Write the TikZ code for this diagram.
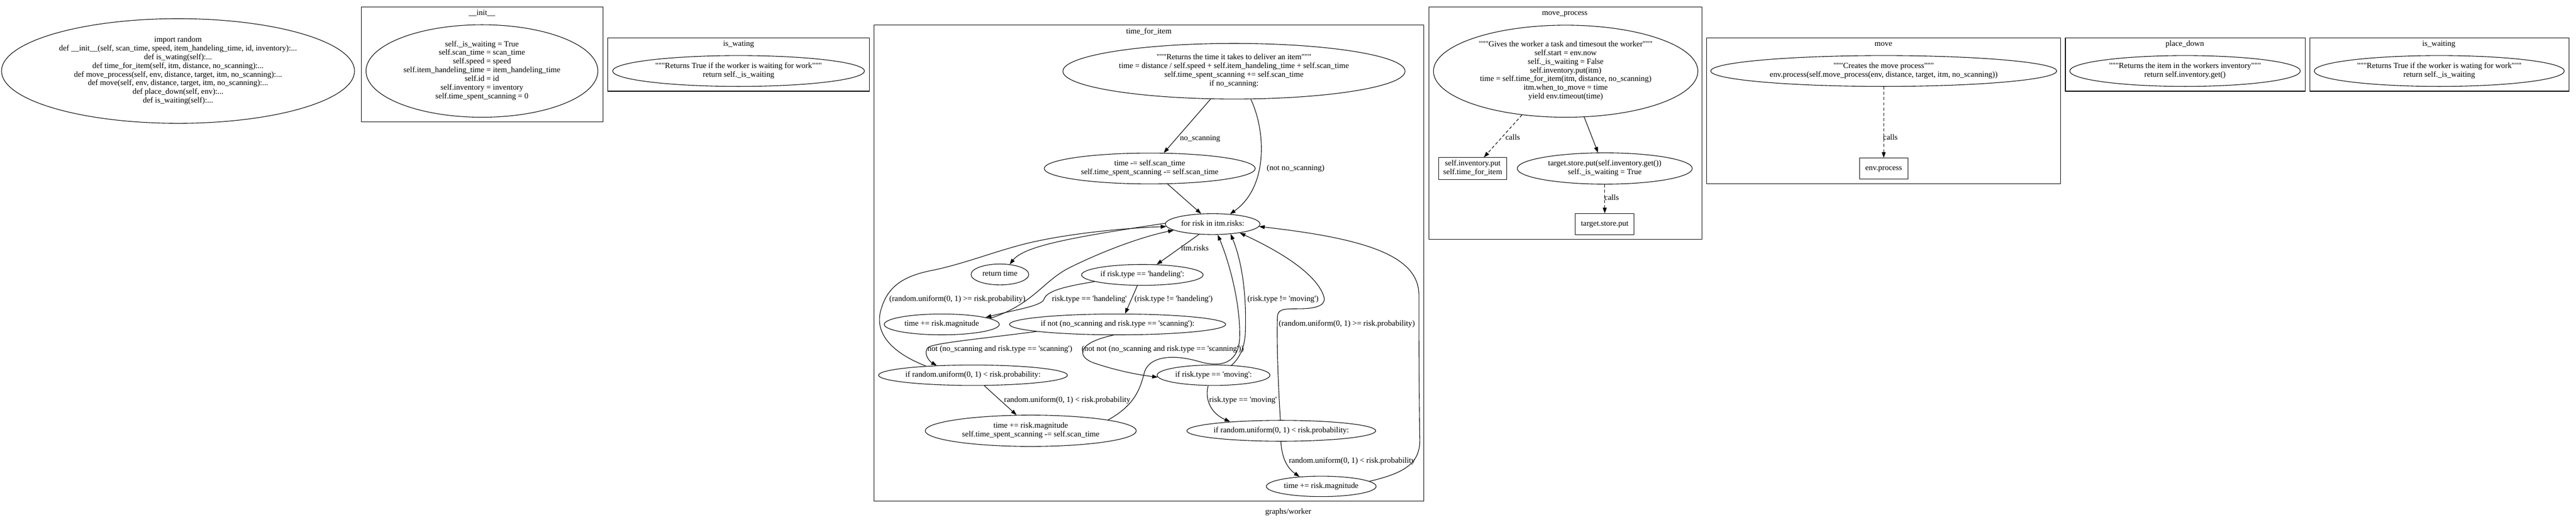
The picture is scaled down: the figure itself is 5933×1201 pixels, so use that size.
\documentclass[tikz,border=0pt]{standalone}
\usepackage{fontspec}
\setmainfont{Liberation Serif}[Ligatures=TeXOff]
\usetikzlibrary{shapes.geometric,arrows.meta}
\newcommand\fs{\fontsize{18.3}{20}\selectfont}
\begin{document}
\begin{tikzpicture}[x=1pt,y=-1pt,
  txt/.style={font=\fs, align=center, inner sep=0pt, execute at begin node=\strut, execute at end node=\strut},
  ell/.style={txt, draw, ellipse, line width=1.3pt, inner xsep=-300pt, inner ysep=0pt},
  bx/.style={txt, draw, rectangle, line width=1.3pt},
  clus/.style={draw, rectangle, line width=1.3pt, inner sep=0pt},
  lab/.style={txt},
  sz/.style 2 args={minimum width=#1pt, minimum height=#2pt},
  arr/.style={line width=1.3pt, -{Triangle[length=13pt,width=9pt]}},
  dsh/.style={arr, dash pattern=on 7pt off 5pt}]
\useasboundingbox (0,0) rectangle (5933,1201);

% ---------- clusters ----------
\node[clus, sz={557}{265}] (Cinit) at (1110.5,148.5) {};
\node[clus, sz={602}{123}] (Cwat1) at (1701,148.5) {};
\node[clus, sz={1266}{1096}] (Ctfi) at (2646,606) {};
\node[clus, sz={629}{535}] (Cmp) at (3605.5,283.5) {};
\node[clus, sz={815}{336}] (Cmove) at (4338.5,255) {};
\node[clus, sz={552}{123}] (Cpd) at (5033,148.5) {};
\node[clus, sz={597}{123}] (Cwat2) at (5618.5,148.5) {};

\node[lab] (tInit) at (1110,31) {\_\_init\_\_};
\node[lab] (tWat1) at (1701,102) {is\_wating};
\node[lab] (tTfi) at (2646,74) {time\_for\_item};
\node[lab] (tMp) at (3604,31) {move\_process};
\node[lab] (tMove) at (4338,102) {move};
\node[lab] (tPd) at (5032,102) {place\_down};
\node[lab] (tWat2) at (5617,102) {is\_waiting};

% ---------- module ----------
\node[ell, sz={813}{241}] (N0) at (410,163.5) {import random\\
def \_\_init\_\_(self, scan\_time, speed, item\_handeling\_time, id, inventory):...\\
def is\_wating(self):...\\
def time\_for\_item(self, itm, distance, no\_scanning):...\\
def move\_process(self, env, distance, target, itm, no\_scanning):...\\
def move(self, env, distance, target, itm, no\_scanning):...\\
def place\_down(self, env):...\\
def is\_waiting(self):...};

\node[ell, sz={534}{213}] (N1) at (1110,163.5) {self.\_is\_waiting = True\\
self.scan\_time = scan\_time\\
self.speed = speed\\
self.item\_handeling\_time = item\_handeling\_time\\
self.id = id\\
self.inventory = inventory\\
self.time\_spent\_scanning = 0};

\node[ell, sz={580}{71}] (W1) at (1701,163.5) {"""Returns True if the worker is waiting for work"""\\return self.\_is\_waiting};

% ---------- time_for_item ----------
\node[ell, sz={788}{128}] (T0) at (2842,164) {"""Returns the time it takes to deliver an item"""\\
time = distance / self.speed + self.item\_handeling\_time + self.scan\_time\\
self.time\_spent\_scanning += self.scan\_time\\
if no\_scanning:};
\node[ell, sz={486}{71}] (T1) at (2648,388) {time -= self.scan\_time\\self.time\_spent\_scanning -= self.scan\_time};
\node[ell, sz={218}{48}] (T2) at (2793,516) {for risk in itm.risks:};
\node[ell, sz={133}{48}] (T3) at (2303,632) {return time};
\node[ell, sz={280}{48}] (T4) at (2631,633) {if risk.type == 'handeling':};
\node[ell, sz={265}{48}] (T5) at (2169,747) {time += risk.magnitude};
\node[ell, sz={498}{48}] (T6) at (2574,747) {if not (no\_scanning and risk.type == 'scanning'):};
\node[ell, sz={435}{47}] (T7) at (2241,864) {if random.uniform(0, 1) < risk.probability:};
\node[ell, sz={260}{47}] (T8) at (2795,864) {if risk.type == 'moving':};
\node[ell, sz={486}{72}] (T9) at (2374,992) {time += risk.magnitude\\self.time\_spent\_scanning -= self.scan\_time};
\node[ell, sz={435}{48}] (T10) at (2951,992) {if random.uniform(0, 1) < risk.probability:};
\node[ell, sz={253}{47}] (T11) at (3043,1120) {time += risk.magnitude};

\draw[arr] (T0.-130) -- (T1.48) node[lab] at (2764,319) {no\_scanning};
\draw[arr] (T0.-59) .. controls (2915,300) and (2922,430) .. (T2.30) node[lab] at (2984,388) {(not no\_scanning)};
\draw[arr] (T1.-41) -- (T2.138);
\draw[arr] (T2.-143) -- (T4.36) node[lab] at (2752,573) {itm.risks};
\draw[arr] (T2.179) .. controls (2480,545) and (2360,565) .. (T3.46);
\draw[arr] (T4.-172) .. controls (2450,660) and (2410,670) .. (2404,690) .. controls (2398,705) and (2330,715) .. (T5.9) node[lab] at (2509,689) {risk.type == 'handeling'};
\draw[arr] (T4.-115) -- (T6.55) node[lab] at (2703,689) {(risk.type != 'handeling')};
\draw[arr] (T5.7) .. controls (2380,700) and (2400,650) .. (2460,618) .. controls (2540,578) and (2630,545) .. (T2.-171);
\draw[arr] (T6.-175) .. controls (2260,780) and (2150,790) .. (2138,800) .. controls (2125,812) and (2140,832) .. (T7.165) node[lab] at (2303,805) {not (no\_scanning and risk.type == 'scanning')};
\draw[arr] (T6.-110) .. controls (2478,790) and (2480,822) .. (2520,836) .. controls (2570,853) and (2620,863) .. (T8.-178) node[lab] at (2678,805) {(not not (no\_scanning and risk.type == 'scanning'))};
\draw[arr] (T7.-43) -- (T9.132) node[lab] at (2458,922) {random.uniform(0, 1) < risk.probability};
\draw[arr] (T7.169) .. controls (2060,815) and (2010,770) .. (2030,710) .. controls (2045,660) and (2080,635) .. (2150,622) .. controls (2230,605) and (2300,575) .. (2380,557) .. controls (2480,535) and (2600,525) .. (T2.-177) node[lab] at (2205,689) {(random.uniform(0, 1) >= risk.probability)};
\draw[arr] (T9.8) .. controls (2610,935) and (2625,900) .. (2635,860) .. controls (2645,820) and (2700,815) .. (2760,832) .. controls (2820,850) and (2852,830) .. (2855,780) .. controls (2858,700) and (2830,600) .. (T2.-65);
\draw[arr] (T8.29) .. controls (2855,825) and (2866,800) .. (2868,770) .. controls (2872,680) and (2860,600) .. (T2.-29) node[lab] at (2955,689) {(risk.type != 'moving')};
\draw[arr] (T8.-117) .. controls (2775,915) and (2785,950) .. (T10.170) node[lab] at (2863,922) {risk.type == 'moving'};
\draw[arr] (T10.-92) .. controls (2952,1055) and (2965,1078) .. (T11.156) node[lab] at (3114,1062) {random.uniform(0, 1) < risk.probability};
\draw[arr] (T10.95) .. controls (2945,900) and (2940,800) .. (2942,730) .. controls (2943,712) and (2955,711) .. (2990,711) .. controls (3040,711) and (3056,700) .. (3048,680) .. controls (3030,630) and (2950,580) .. (T2.-18) node[lab] at (3102,747) {(random.uniform(0, 1) >= risk.probability)};
\draw[arr] (T11.6) .. controls (3230,1090) and (3272,1070) .. (3270,1010) .. controls (3268,900) and (3268,760) .. (3268,680) .. controls (3268,590) and (3150,550) .. (T2.-3);

% ---------- move_process ----------
\node[ell, sz={609}{212}] (M0) at (3606,164) {"""Gives the worker a task and timesout the worker"""\\
self.start = env.now\\
self.\_is\_waiting = False\\
self.inventory.put(itm)\\
time = self.time\_for\_item(itm, distance, no\_scanning)\\
itm.when\_to\_move = time\\
yield env.timeout(time)};
\node[bx, sz={157}{50}] (M1) at (3392,388) {self.inventory.put\\self.time\_for\_item};
\node[ell, sz={403}{72}] (M2) at (3696,388) {target.store.put(self.inventory.get())\\self.\_is\_waiting = True};
\node[bx, sz={135}{48}] (M3) at (3696,516) {target.store.put};
\draw[dsh] (M0.-135) -- (M1.45) node[lab] at (3484,318) {calls};
\draw[arr] (M0.-68) -- (M2.113);
\draw[dsh] (M2.south) -- (M3.north) node[lab] at (3712,457) {calls};

% ---------- move ----------
\node[ell, sz={797}{71}] (V0) at (4338.5,163.5) {"""Creates the move process"""\\env.process(self.move\_process(env, distance, target, itm, no\_scanning))};
\node[bx, sz={112}{48}] (V1) at (4338.5,388) {env.process};
\draw[dsh] (V0.south) -- (V1.north) node[lab] at (4354,318) {calls};

% ---------- place_down ----------
\node[ell, sz={531}{71}] (P0) at (5032.5,163.5) {"""Returns the item in the workers inventory"""\\return self.inventory.get()};

% ---------- is_waiting ----------
\node[ell, sz={576}{71}] (W2) at (5618,163.5) {"""Returns True if the worker is wating for work"""\\return self.\_is\_waiting};

\node[lab] (glabel) at (2967,1180) {graphs/worker};
\end{tikzpicture}
\end{document}
